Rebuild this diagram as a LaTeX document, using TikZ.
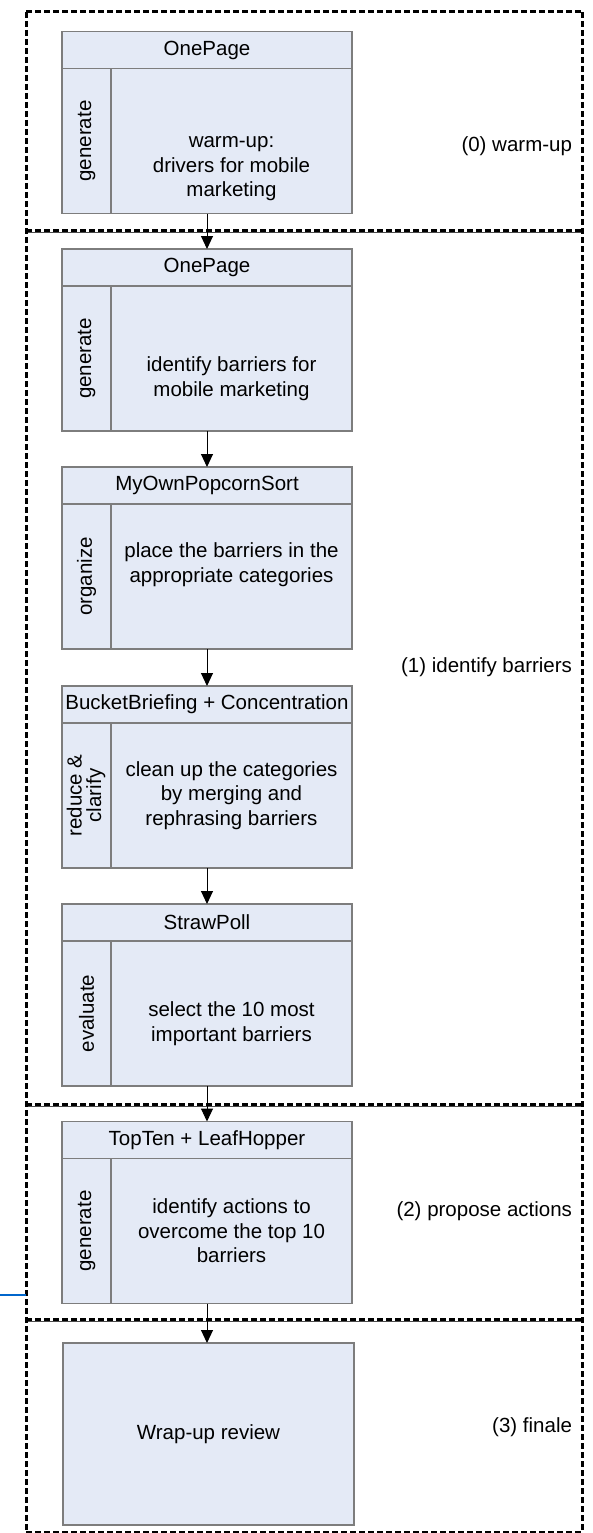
\documentclass[tikz,border=0pt]{standalone}
\usepackage{fontspec}
\setmainfont{Liberation Sans}
\usepackage{graphicx}
\usetikzlibrary{arrows.meta,positioning}

\definecolor{boxfill}{RGB}{228,234,246}
\definecolor{boxline}{RGB}{125,125,125}
\definecolor{linkblue}{RGB}{0,102,204}

\begin{document}
\begin{tikzpicture}[x=1pt,y=-1pt,
    every node/.style={font=\fontsize{20.5}{24.5}\selectfont, inner sep=0pt, outer sep=0pt},
    frame/.style={draw=boxline, fill=boxfill, line width=1.4pt, minimum width=290pt, minimum height=182pt},
    head/.style={draw=boxline, fill=boxfill, line width=1.4pt, minimum width=290pt, minimum height=37pt},
    side/.style={draw=boxline, fill=boxfill, line width=1.4pt, minimum width=49pt, minimum height=145pt},
    body/.style={draw=boxline, fill=boxfill, line width=1.4pt, minimum width=241pt, minimum height=145pt},
    bodytext/.style={align=center},
    phase/.style={draw=black, line width=3pt, dash pattern=on 6pt off 3pt},
    phaseunder/.style={draw=black!70, line width=0.8pt},
    phaselabel/.style={anchor=east},
    arrow/.style={draw=black, line width=1pt, -{Triangle[length=13pt,width=12pt]}}]
  \useasboundingbox (0,0) rectangle (592,1533);

  % phases
  \draw[phase] (26,12) -- (582,12);
  \draw[phaseunder] (26,232.5) -- (582,232.5);
  \draw[phaseunder] (26,1106.5) -- (582,1106.5);
  \draw[phaseunder] (26,1321.5) -- (582,1321.5);
  \draw[phase] (26,230) -- (582,230);
  \draw[phase] (26,1104) -- (582,1104);
  \draw[phase] (26,1319) -- (582,1319);
  \draw[phase] (26,1532) -- (582,1532);
  \draw[phase] (26,12) -- (26,1533);
  \draw[phase] (582,12) -- (582,1533);
  \node[phaselabel] (p0) at (572,146) {(0) warm-up};
  \node[phaselabel] (p1) at (572,667) {(1) identify barriers};
  \node[phaselabel] (p2) at (572,1211) {(2) propose actions};
  \node[phaselabel] (p3) at (572,1427) {(3) finale};

  % (0)
  \node[frame] (b0) at (207,122.5) {};
  \node[head, anchor=north] (h0) at (b0.north) {OnePage};
  \node[side, anchor=north west] (s0) at (h0.south west) {\rotatebox{90}{generate}};
  \node[body, anchor=north west] (t0) at (s0.north east) {};
  \node[bodytext] (x0) at ([yshift=-28pt]t0.center) {warm-up:\\drivers for mobile\\marketing};

  % (1)
  \node[frame] (b1) at (207,340) {};
  \node[head, anchor=north] (h1) at (b1.north) {OnePage};
  \node[side, anchor=north west] (s1) at (h1.south west) {\rotatebox{90}{generate}};
  \node[body, anchor=north west] (t1) at (s1.north east) {};
  \node[bodytext] (x1) at ([yshift=-20pt]t1.center) {identify barriers for\\mobile marketing};

  \node[frame] (b2) at (207,558) {};
  \node[head, anchor=north] (h2) at (b2.north) {MyOwnPopcornSort};
  \node[side, anchor=north west] (s2) at (h2.south west) {\rotatebox{90}{organize}};
  \node[body, anchor=north west] (t2) at (s2.north east) {};
  \node[bodytext] (x2) at ([yshift=12pt]t2.center) {place the barriers in the\\appropriate categories};

  \node[frame] (b3) at (207,777) {};
  \node[head, anchor=north] (h3) at (b3.north) {BucketBriefing + Concentration};
  \node[side, anchor=north west] (s3) at (h3.south west) {\rotatebox{90}{\begin{tabular}{@{}c@{}}reduce \&\\[-5pt]clarify\end{tabular}}};
  \node[body, anchor=north west] (t3) at (s3.north east) {};
  \node[bodytext] (x3) at (t3.center) {clean up the categories\\by merging and\\rephrasing barriers};

  \node[frame] (b4) at (207,995) {};
  \node[head, anchor=north] (h4) at (b4.north) {StrawPoll};
  \node[side, anchor=north west] (s4) at (h4.south west) {\rotatebox{90}{evaluate}};
  \node[body, anchor=north west] (t4) at (s4.north east) {};
  \node[bodytext] (x4) at ([yshift=-10pt]t4.center) {select the 10 most\\important barriers};

  % (2)
  \node[frame] (b5) at (207,1212.5) {};
  \node[head, anchor=north] (h5) at (b5.north) {TopTen + LeafHopper};
  \node[side, anchor=north west] (s5) at (h5.south west) {\rotatebox{90}{generate}};
  \node[body, anchor=north west] (t5) at (s5.north east) {};
  \node[bodytext] (x5) at (t5.center) {identify actions to\\overcome the top 10\\barriers};

  % (3)
  \node[frame, minimum width=291pt] (b6) at (208.5,1434) {Wrap-up review};

  \draw[arrow] (b0) -- (b1);
  \draw[arrow] (b1) -- (b2);
  \draw[arrow] (b2) -- (b3);
  \draw[arrow] (b3) -- (b4);
  \draw[arrow] (b4) -- (b5);
  \draw[arrow] (b5.south) -- (b5.south |- b6.north);

  \coordinate (linkend) at (0,1295);
  \coordinate (linkstart) at (26,1295);
  \draw[linkblue, line width=1.5pt] (linkend) -- (linkstart);
\end{tikzpicture}
\end{document}
